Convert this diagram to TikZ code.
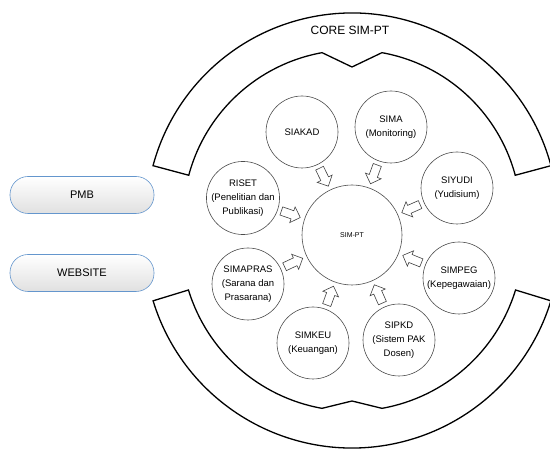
\documentclass[tikz,border=0pt]{standalone}
\usepackage{fontspec}
\setmainfont{Liberation Sans}
\usetikzlibrary{positioning}
\usetikzlibrary{shapes.arrows}
\usetikzlibrary{calc}
\definecolor{pillblue}{RGB}{100,150,205}
\tikzset{
x=1pt, y=1pt, % one unit is one pixel of the picture
sat/.style={circle, draw=black!70, line width=0.6pt, minimum size=72pt, inner sep=0pt, align=center, font=\fontsize{9.5}{14}\selectfont}, % the modules round the core
core/.style={circle, draw=black!70, line width=0.6pt, minimum size=100pt, font=\fontsize{7}{8}\selectfont}, % the core in the middle
pill/.style={rectangle, rounded corners=18pt, draw=pillblue, line width=0.6pt, top color=white, bottom color=black!12, minimum width=144pt, minimum height=37pt, font=\fontsize{11}{13}\selectfont}, % the outside systems
feed/.style={single arrow, draw=black!75, line width=0.6pt, fill=white, minimum height=20pt, single arrow head extend=4pt, inner sep=4pt}, % the block arrows into the core
band/.style={draw=black, line width=1.3pt, line join=miter}, % the two arcs
}

\begin{document}
\begin{tikzpicture}
\useasboundingbox (0,0) rectangle (550,450);
%two arcs round the core
\coordinate (TOPC) at (352,231);
\coordinate (BOTC) at (352,210);
\draw[band] (TOPC) ++(15:206) arc[start angle=15, end angle=165, radius=206pt] -- ++(165:-37) arc[start angle=165, end angle=100.2, radius=169pt] -- ($(TOPC)+(0,152)$) -- ($(TOPC)+(79.8:169)$) arc[start angle=79.8, end angle=15, radius=169pt] -- cycle;
\draw[band] (BOTC) ++(197:208) arc[start angle=197, end angle=343, radius=208pt] -- ++(343:-37) arc[start angle=343, end angle=280.1, radius=171pt] -- ($(BOTC)+(0,-161)$) -- ($(BOTC)+(259.9:171)$) arc[start angle=259.9, end angle=197, radius=171pt] -- cycle;
\node[font=\fontsize{12}{14}\selectfont] (CORE) at (350,420) {CORE SIM-PT};
%core and modules
\node[core] (SIMPT) at (352,215) {SIM-PT};
\node[sat] (SIAKAD) at (302,318) {SIAKAD};
\node[sat] (SIMA) at (391,323) {SIMA\\(Monitoring)};
\node[sat] (SIYUDI) at (457,262) {SIYUDI\\(Yudisium)};
\node[sat] (SIMPEG) at (459,172) {SIMPEG\\(Kepegawaian)};
\node[sat] (SIPKD) at (399,110) {SIPKD\\(Sistem PAK\\Dosen)};
\node[sat] (SIMKEU) at (313,107) {SIMKEU\\(Keuangan)};
\node[sat] (SIMAPRAS) at (248,166) {SIMAPRAS\\(Sarana dan\\Prasarana)};
\node[sat] (RISET) at (243,252) {RISET\\(Penelitian dan\\Publikasi)};
%block arrows from each module into the core
\node[feed, rotate=-64] (fSIAKAD) at ($(SIMPT)!0.58!(SIAKAD)$) {};
\node[feed, rotate=-110] (fSIMA) at ($(SIMPT)!0.58!(SIMA)$) {};
\node[feed, rotate=-156] (fSIYUDI) at ($(SIMPT)!0.58!(SIYUDI)$) {};
\node[feed, rotate=158] (fSIMPEG) at ($(SIMPT)!0.58!(SIMPEG)$) {};
\node[feed, rotate=114] (fSIPKD) at ($(SIMPT)!0.58!(SIPKD)$) {};
\node[feed, rotate=70] (fSIMKEU) at ($(SIMPT)!0.58!(SIMKEU)$) {};
\node[feed, rotate=25] (fSIMAPRAS) at ($(SIMPT)!0.58!(SIMAPRAS)$) {};
\node[feed, rotate=-19] (fRISET) at ($(SIMPT)!0.58!(RISET)$) {};
%outside systems
\node[pill] (PMB) at (82,255) {PMB};
\node[pill] (WEBSITE) at (82,177) {WEBSITE};
\end{tikzpicture}
\end{document}
